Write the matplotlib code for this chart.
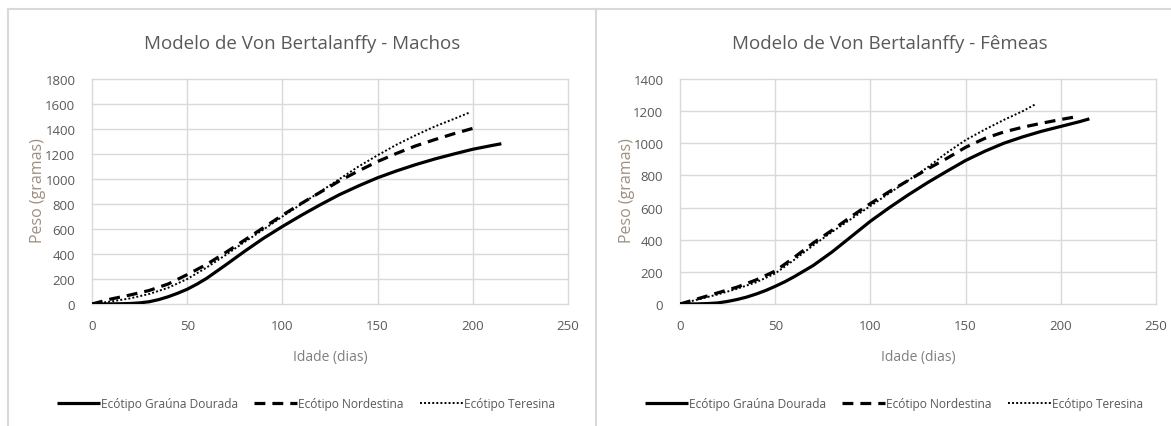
import matplotlib
matplotlib.use("Agg")
import matplotlib.pyplot as plt
from matplotlib.lines import Line2D

plt.rcParams['font.family'] = ['Liberation Sans Narrow', 'Open Sans', 'DejaVu Sans']

# ---- data ----
categories = ["Ecótipo Graúna Dourada", "Ecótipo Nordestina", "Ecótipo Teresina"]

# Machos
m_graúna_x = [0, 5, 10, 15, 20, 25, 30, 35, 40, 45, 50, 55, 60, 70, 80, 90, 100, 110, 120, 130, 140, 150, 160, 170, 180, 190, 200, 210, 215]
m_graúna_y = [0, 0, 1, 2, 4, 9, 18, 35, 58, 86, 118, 158, 203, 310, 420, 525, 620, 710, 795, 875, 945, 1010, 1065, 1115, 1160, 1200, 1238, 1268, 1282]
m_nord_x = [0, 5, 10, 20, 30, 40, 50, 60, 70, 80, 90, 100, 110, 120, 130, 140, 150, 160, 170, 180, 190, 200]
m_nord_y = [0, 20, 40, 72, 108, 160, 235, 315, 410, 510, 610, 710, 805, 895, 985, 1065, 1140, 1205, 1265, 1315, 1362, 1405]
m_ter_x = [0, 10, 20, 30, 40, 50, 60, 70, 80, 90, 100, 110, 120, 130, 140, 150, 160, 170, 180, 190, 198]
m_ter_y = [0, 20, 45, 80, 130, 200, 290, 390, 495, 595, 700, 800, 900, 1000, 1100, 1190, 1275, 1350, 1420, 1480, 1530]

# Fêmeas
f_graúna_x = [0, 5, 10, 15, 20, 25, 30, 35, 40, 45, 50, 55, 60, 70, 80, 90, 100, 110, 120, 130, 140, 150, 160, 170, 180, 190, 200, 210, 215]
f_graúna_y = [0, 0, 1, 3, 7, 16, 28, 43, 62, 84, 110, 138, 170, 240, 325, 420, 515, 600, 680, 755, 825, 893, 950, 1000, 1040, 1075, 1105, 1135, 1152]
f_nord_x = [0, 10, 20, 30, 40, 50, 60, 70, 80, 90, 100, 110, 120, 130, 140, 150, 160, 170, 180, 190, 200, 208]
f_nord_y = [0, 35, 70, 105, 150, 205, 290, 380, 460, 545, 625, 700, 770, 840, 905, 975, 1030, 1070, 1100, 1125, 1148, 1165]
f_ter_x = [0, 10, 20, 30, 40, 50, 60, 70, 80, 90, 100, 110, 120, 130, 140, 150, 160, 170, 180, 187]
f_ter_y = [0, 30, 60, 95, 135, 190, 275, 365, 450, 530, 610, 690, 770, 850, 940, 1020, 1085, 1145, 1200, 1245]

x_ticks = [0, 50, 100, 150, 200, 250]
m_y_ticks = [0, 200, 400, 600, 800, 1000, 1200, 1400, 1600, 1800]
f_y_ticks = [0, 200, 400, 600, 800, 1000, 1200, 1400]

titles = ["Modelo de Von Bertalanffy - Machos", "Modelo de Von Bertalanffy - Fêmeas"]
xlabel = "Idade (dias)"
ylabel = "Peso (gramas)"

# ---- figure ----
W, H = 1171, 427
fig = plt.figure(figsize=(W / 100, H / 100), dpi=100)

def fx(px):
    return px / W

def fy(py):
    return 1 - py / H

styles = [
    dict(color='black', lw=2.3, linestyle='-'),
    dict(color='black', lw=2.3, linestyle=(0, (3.4, 2.2))),
    dict(color='black', lw=1.4, linestyle=(0, (1, 1.1))),
]

GRID = '#d9d9d9'
TICK = '#595959'

# panel borders
border = '#d9d9d9'
for (x0, x1) in [(8, 596), (596, 1171)]:
    fig.add_artist(Line2D([fx(x0), fx(x1)], [fy(10), fy(10)], color=border, lw=1.5))
    fig.add_artist(Line2D([fx(x0), fx(x0)], [fy(10), fy(427)], color=border, lw=1.5))

panels = [
    dict(ax_px=(92, 568), ylim=1800, yt=m_y_ticks,
         data=[(m_graúna_x, m_graúna_y), (m_nord_x, m_nord_y), (m_ter_x, m_ter_y)],
         center=302, ylab_x=38),
    dict(ax_px=(680, 1156), ylim=1400, yt=f_y_ticks,
         data=[(f_graúna_x, f_graúna_y), (f_nord_x, f_nord_y), (f_ter_x, f_ter_y)],
         center=890, ylab_x=627),
]

for i, p in enumerate(panels):
    l, r = p['ax_px']
    ax = fig.add_axes([fx(l), fy(305), (r - l) / W, 225 / H])
    handles = []
    for (xs, ys), st, name in zip(p['data'], styles, categories):
        h, = ax.plot(xs, ys, label=name, solid_capstyle='butt', dash_capstyle='butt',
                     solid_joinstyle='round', **st)
        handles.append(h)
    ax.set_xlim(0, 250)
    ax.set_ylim(0, p['ylim'])
    ax.set_xticks(x_ticks)
    ax.set_yticks(p['yt'])
    ax.grid(True, color=GRID, lw=1)
    ax.set_axisbelow(True)
    for s in ax.spines.values():
        s.set_visible(False)
    ax.tick_params(length=0, labelsize=9.5, labelcolor=TICK)
    ax.tick_params(axis='y', pad=12)
    ax.tick_params(axis='x', pad=11)
    for gl in ax.get_xgridlines() + ax.get_ygridlines():
        gl.set_clip_on(False)

    fig.text(fx(p['center']), fy(44), titles[i], ha='center', va='center',
             fontsize=13.5, color=TICK)
    fig.text(fx((l + r) / 2), fy(357), xlabel, ha='center', va='center',
             fontsize=10, color='#7f7f7f')
    fig.text(fx(p['ylab_x']), fy(191), ylabel, ha='center', va='center',
             rotation=90, fontsize=11.5, color='#a08f80')

    fig.legend(handles=handles, loc='center', ncol=3,
               bbox_to_anchor=(fx(p['center'] + 4), fy(405)),
               frameon=False, fontsize=8.6, handlelength=3.6,
               handletextpad=0.05, columnspacing=1.4, labelcolor=TICK)

fig.savefig('out.png', dpi=100)
